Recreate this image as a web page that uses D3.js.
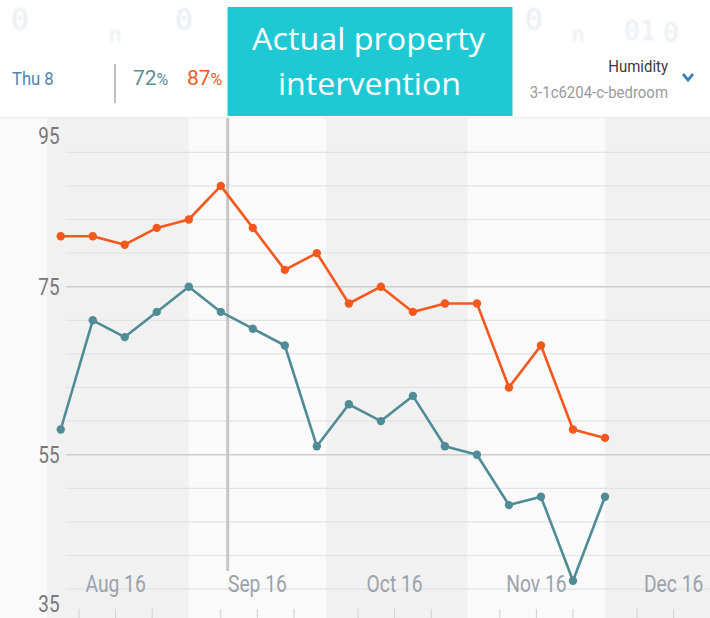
<!DOCTYPE html>
<html><head><meta charset="utf-8">
<script src="https://cdn.jsdelivr.net/npm/d3@7"></script>
<style>body{margin:0;background:#fff}svg{display:block}</style>
</head><body><svg id="c" width="710" height="618"></svg>
<script>
// ---- data ----
const dates = ["2016-08-04","2016-08-11","2016-08-18","2016-08-25","2016-09-01","2016-09-08",
  "2016-09-15","2016-09-22","2016-09-29","2016-10-06","2016-10-13","2016-10-20","2016-10-27",
  "2016-11-03","2016-11-10","2016-11-17","2016-11-24","2016-12-01"];
const orangeSeries = [81,81,80,82,83,87,82,77,79,73,75,72,73,73,63,68,58,57];
const tealSeries   = [58,71,69,72,75,72,70,68,56,61,59,62,56,55,49,50,40,50];
const yLabelValues = [35,55,75,95];
const gridValues = [39,43,47,51,55,59,63,67,71,75,79,83,87,91];
const majorGrid = [55,75];
const monthLabels = ["Aug 16","Sep 16","Oct 16","Nov 16","Dec 16"];
const monthLabelDates = ["2016-08-16","2016-09-16","2016-10-16","2016-11-16","2016-12-16"];
const monthStarts = ["2016-07-01","2016-08-01","2016-09-01","2016-10-01","2016-11-01","2016-12-01","2017-01-01"];
const tickDates = ["2016-08-08","2016-08-16","2016-08-24","2016-09-08","2016-09-16","2016-09-24",
  "2016-10-08","2016-10-16","2016-10-24","2016-11-08","2016-11-16","2016-11-24","2016-12-08","2016-12-16"];
const selectedDate = "2016-09-09T12:00:00Z";
const headerDay = "Thu 8";
const headerTeal = "72", headerOrange = "87";
const titleLines = ["Actual property","intervention"];
const metricName = "Humidity", sensorName = "3-1c6204-c-bedroom";

const C_ORANGE = "#f5581c", C_TEAL = "#4f8c95";
const P = s => new Date(s.length === 10 ? s + "T00:00:00Z" : s);

const svg = d3.select("#c");
const x = d3.scaleUtc().domain([P("2016-08-01"), P("2016-12-01")]).range([47, 605]);
const y = d3.scaleLinear().domain([35, 95]).range([622.7, 118.7]);
const plotTop = 118, plotBottom = 618;

// faint, blurred glyphs along the very top
const faint = svg.append("g").attr("fill", "#e9eaf1").attr("font-family", "DejaVu Sans Mono")
  .style("filter", "blur(1.2px)");
[["0",20,30,30],["n",115,42,22],["0",184,30,30],["0",534,30,30],["n",578,42,22],["01",640,40,26],["0",671,42,26]]
  .forEach(([t,xx,yy,fs]) => faint.append("text").attr("x",xx).attr("y",yy).attr("font-size",fs)
    .attr("text-anchor","middle").text(t));

// ---- plot background bands ----
const plot = svg.append("g");
for (let i = 0; i < monthStarts.length - 1; i++) {
  const x0 = Math.max(0, x(P(monthStarts[i]))), x1 = Math.min(710, x(P(monthStarts[i+1])));
  plot.append("rect").attr("x", x0).attr("y", plotTop).attr("width", x1 - x0).attr("height", plotBottom - plotTop)
    .attr("fill", i % 2 === 0 ? "#fafafa" : "#f1f1f1");
}
// grid
plot.selectAll("line.g").data(gridValues).join("line")
  .attr("x1", 66).attr("x2", 710)
  .attr("y1", d => y(d)).attr("y2", d => y(d))
  .attr("stroke", d => majorGrid.includes(d) ? "#cdcdcd" : "#e3e3e3")
  .attr("stroke-width", d => majorGrid.includes(d) ? 1.6 : 1.2);

// bottom ticks
plot.selectAll("line.t").data(tickDates).join("line")
  .attr("x1", d => x(P(d))).attr("x2", d => x(P(d)))
  .attr("y1", 609).attr("y2", 618).attr("stroke", "#cfcfcf").attr("stroke-width", 1);

// selected vertical line
plot.append("line").attr("x1", x(P(selectedDate))).attr("x2", x(P(selectedDate)))
  .attr("y1", plotTop).attr("y2", 571).attr("stroke", "#c6c6c6").attr("stroke-width", 3);

// month labels
plot.selectAll("text.m").data(monthLabels).join("text")
  .attr("transform", (d, i) => `translate(${x(P(monthLabelDates[i]))},591.5) scale(0.82,1)`)
  .attr("text-anchor", "middle").attr("font-family", "Roboto").attr("font-size", 23.5)
  .attr("fill", "#9aa3ad").text(d => d);

// y labels
plot.selectAll("text.y").data(yLabelValues).join("text")
  .attr("transform", d => `translate(59.5,${Math.max(135.3, Math.min(603.5, y(d))) + 8.3}) scale(0.82,1)`)
  .attr("text-anchor", "end").attr("font-family", "Roboto").attr("font-size", 23)
  .attr("fill", "#787878").text(d => d);

// series
const line = d3.line().x((d, i) => x(P(dates[i]))).y(d => y(d));
[[orangeSeries, C_ORANGE], [tealSeries, C_TEAL]].forEach(([s, c]) => {
  plot.append("path").datum(s).attr("d", line).attr("fill", "none")
    .attr("stroke", c).attr("stroke-width", 2.6).attr("stroke-linejoin", "round");
  plot.selectAll(null).data(s).join("circle")
    .attr("cx", (d, i) => x(P(dates[i]))).attr("cy", d => y(d)).attr("r", 4.2).attr("fill", c);
});

// ---- header ----
svg.append("line").attr("x1", 0).attr("x2", 710).attr("y1", 117.5).attr("y2", 117.5)
  .attr("stroke", "#ececec").attr("stroke-width", 1);
svg.append("text").attr("transform", "translate(12,85) scale(0.9,1)").attr("font-family", "Roboto").attr("font-size", 18.5)
  .attr("fill", "#4f87b2").text(headerDay);
svg.append("line").attr("x1", 115).attr("x2", 115).attr("y1", 64).attr("y2", 103)
  .attr("stroke", "#a8a8a8").attr("stroke-width", 1.5);
function pct(xx, val, col) {
  const t = svg.append("text").attr("transform", `translate(${xx},85)`).attr("font-family", "Roboto").attr("fill", col);
  t.append("tspan").attr("font-size", 21).text(val);
  t.append("tspan").attr("font-size", 16).text("%");
}
pct(133, headerTeal, "#5b8f98");
pct(187, headerOrange, "#ee5a27");

svg.append("text").attr("transform", "translate(668,72) scale(0.88,1)").attr("text-anchor", "end").attr("font-family", "Roboto")
  .attr("font-size", 17).attr("fill", "#3a3a3a").text(metricName);
svg.append("text").attr("transform", "translate(668,98) scale(0.88,1)").attr("text-anchor", "end").attr("font-family", "Roboto")
  .attr("font-size", 17).attr("fill", "#9a9a9a").text(sensorName);
svg.append("path").attr("d", "M683,74 L688,80 L693,74").attr("fill", "none")
  .attr("stroke", "#3f83b6").attr("stroke-width", 2.8);

// title box
svg.append("rect").attr("x", 227.5).attr("y", 7).attr("width", 285).attr("height", 109).attr("fill", "#1fc9d4");
svg.append("text").attr("x", 252).attr("y", 50).attr("font-family", "Open Sans").attr("font-size", 31)
  .attr("fill", "#fff").attr("textLength", 233).attr("lengthAdjust", "spacingAndGlyphs").text(titleLines[0]);
svg.append("text").attr("x", 278).attr("y", 95).attr("font-family", "Open Sans").attr("font-size", 31)
  .attr("fill", "#fff").attr("textLength", 183).attr("lengthAdjust", "spacingAndGlyphs").text(titleLines[1]);
</script></body></html>
